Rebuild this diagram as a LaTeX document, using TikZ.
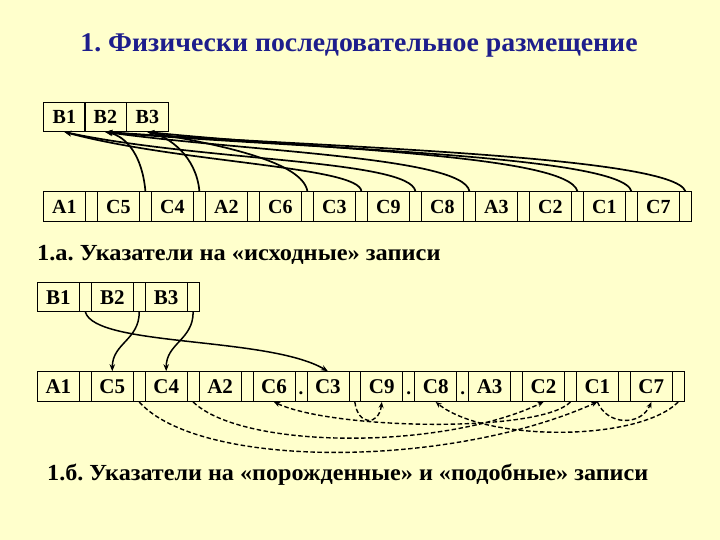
\documentclass[tikz,border=0pt]{standalone}
\usepackage{fontspec}
\setmainfont{Liberation Serif}
\usetikzlibrary{arrows.meta,calc}
\definecolor{bgc}{RGB}{255,255,204}
\definecolor{titlec}{RGB}{30,30,140}
\begin{document}
\frenchspacing
\begin{tikzpicture}[x=1pt,y=1pt,
  maincell/.style={draw, line width=0.8pt, minimum width=42pt, minimum height=30pt, inner sep=0pt, text height=13.5pt, text depth=0pt, anchor=south west, font=\bfseries\fontsize{20}{20}\selectfont},
  smallcell/.style={draw, line width=0.8pt, minimum width=12pt, minimum height=30pt, inner sep=0pt, anchor=south west},
  maincellb/.style={maincell, text height=14pt, font=\bfseries\fontsize{21}{21}\selectfont},
  smallcellb/.style={smallcell, minimum width=11.9pt},
  dotc/.style={inner sep=0pt, font=\bfseries\fontsize{19}{19}\selectfont},
  ptr/.style={line width=1.7pt, -{Stealth[length=7pt,width=5.5pt]}},
  ptrb/.style={line width=1.5pt, -{Stealth[length=7pt,width=5.5pt]}},
  dptr/.style={line width=1.4pt, dash pattern=on 4.5pt off 2.5pt, -{Stealth[length=6pt,width=5pt]}},
  heading/.style={inner sep=0pt, font=\bfseries\fontsize{23}{23}\selectfont}
]
\fill[bgc] (0,0) rectangle (720,540);
\useasboundingbox (0,0) rectangle (720,540);

\node[titlec, inner sep=0pt, font=\bfseries\fontsize{27}{27}\selectfont] (title) at (359,495) {\scalebox{1.03}[1]{1. Физически последовательное размещение}};

% ---------- section 1 ----------
\node[maincell, minimum height=29pt] (b1) at (43,408) {B1};
\node[maincell, minimum height=29pt] (b2) at (84,408) {B2};
\node[maincell, minimum height=29pt] (b3) at (126,408) {B3};

\foreach \lab/\nm [count=\i from 0] in {A1/a1,C5/c5,C4/c4,A2/a2,C6/c6,C3/c3,C9/c9,C8/c8,A3/a3,C2/c2,C1/c1,C7/c7} {
  \node[maincell] (\nm) at ({43+54*\i},318) {\lab};
  \node[smallcell] (\nm-p) at ({85+54*\i},318) {};
}

\draw[ptr] (c3-p.north) to[out=95,in=-15,out distance=25pt,in distance=120pt] (b1.south);
\draw[ptr] (c9-p.north) to[out=100,in=-12,out distance=32pt,in distance=140pt] (b1.south);
\draw[ptr] (c5-p.north) to[out=95,in=-12,out distance=35pt,in distance=22pt] (b2.south);
\draw[ptr] (c8-p.north) to[out=100,in=-8,out distance=35pt,in distance=140pt] (b2.south);
\draw[ptr] (c1-p.north) to[out=105,in=-5,out distance=38pt,in distance=190pt] (b2.south);
\draw[ptr] (c7-p.north) to[out=110,in=-4,out distance=38pt,in distance=210pt] (b2.south);
\draw[ptr] (c4-p.north) to[out=95,in=-12,out distance=35pt,in distance=22pt] (b3.south);
\draw[ptr] (c6-p.north) to[out=100,in=-10,out distance=30pt,in distance=75pt] (b3.south);
\draw[ptr] (c2-p.north) to[out=105,in=-6,out distance=38pt,in distance=165pt] (b3.south);

\node[heading, anchor=west] (h1) at (37,285) {\scalebox{1.06}[1]{1.а. Указатели на «исходные» записи}};

% ---------- section 2 ----------
\foreach \lab/\nm [count=\i from 0] in {B1/sb1,B2/sb2,B3/sb3} {
  \node[maincellb, minimum height=29pt] (\nm) at ({37+53.9*\i},228) {\lab};
  \node[smallcellb, minimum height=29pt] (\nm-p) at ({79+53.9*\i},228) {};
}
\foreach \lab/\nm [count=\i from 0] in {A1/sa1,C5/sc5,C4/sc4,A2/sa2,C6/sc6,C3/sc3,C9/sc9,C8/sc8,A3/sa3,C2/sc2,C1/sc1,C7/sc7} {
  \node[maincellb] (\nm) at ({37+53.9*\i},138) {\lab};
  \node[smallcellb] (\nm-p) at ({79+53.9*\i},138) {};
}
\node[dotc] (d1) at ($(sc6-p.center)+(0,-7)$) {.};
\node[dotc] (d2) at ($(sc9-p.center)+(0,-7)$) {.};
\node[dotc] (d3) at ($(sc8-p.center)+(0,-7)$) {.};

\draw[ptrb] (sb1-p.south) .. controls +(10,-35) and +(-60,35) .. (sc3.north);
\draw[ptrb] (sb2-p.south) .. controls +(0,-28) and +(0,28) .. (sc5.north);
\draw[ptrb] (sb3-p.south) .. controls +(0,-28) and +(0,28) .. (sc4.north);

\draw[dptr] (sc5-p.south) .. controls +(60,-67) and +(-150,-67) .. (sc1.south);
\draw[dptr] (sc4-p.south) .. controls +(50,-48) and +(-100,-48) .. (sc2.south);
\draw[dptr] (sc2-p.south) .. controls +(-30,-31) and +(60,-28) .. (sc6.south);
\draw[dptr] (sc7-p.south) .. controls +(-40,-40) and +(50,-40) .. (sc8.south);
\draw[dptr] (sc3-p.south) .. controls +(3,-24) and +(-3,-24) .. (sc9.south);
\draw[dptr] (sc1.south) .. controls +(10,-24) and +(-10,-24) .. (sc7.south);

\node[heading, anchor=west] (h2) at (47,65) {\scalebox{1.05}[1]{1.б. Указатели на «порожденные» и «подобные» записи}};
\end{tikzpicture}
\end{document}
